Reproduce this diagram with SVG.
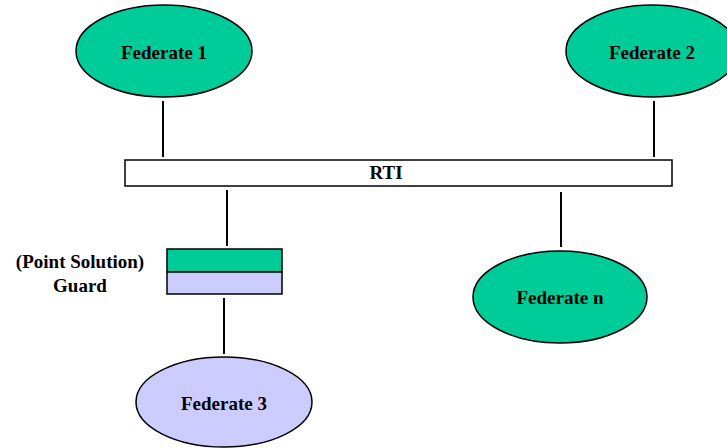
<svg xmlns="http://www.w3.org/2000/svg" width="727" height="448" viewBox="0 0 727 448">
  <style>
    .lbl { font-family: "Liberation Serif", "Times New Roman", serif; font-weight: bold; font-size: 19px; fill: #000; text-anchor: middle; }
    .green { fill: #00CC99; stroke: #000; stroke-width: 1.5; }
    .lilac { fill: #CCCCFF; stroke: #000; stroke-width: 1.5; }
    .link { stroke: #000; stroke-width: 2; fill: none; }
  </style>
  <rect width="727" height="448" fill="#fff"/>

  <g id="connectors">
    <line class="link" x1="163" y1="101" x2="163" y2="157"/>
    <line class="link" x1="654" y1="101" x2="654" y2="157"/>
    <line class="link" x1="227" y1="190" x2="227" y2="246"/>
    <line class="link" x1="561" y1="192" x2="561" y2="247"/>
    <line class="link" x1="224" y1="298" x2="224" y2="354"/>
  </g>

  <g id="rti">
    <rect x="125" y="160" width="547" height="26" fill="#fff" stroke="#000" stroke-width="1.5"/>
    <text class="lbl" x="386" y="179">RTI</text>
  </g>

  <g id="federate1">
    <ellipse class="green" cx="164" cy="51" rx="88" ry="46"/>
    <text class="lbl" x="164" y="59">Federate 1</text>
  </g>

  <g id="federate2">
    <ellipse class="green" cx="652" cy="51" rx="86" ry="46"/>
    <text class="lbl" x="652" y="59">Federate 2</text>
  </g>

  <g id="guard">
    <rect class="green" x="167" y="249" width="115" height="23"/>
    <rect class="lilac" x="167" y="272" width="115" height="22"/>
    <text class="lbl" x="80" y="268">(Point Solution)</text>
    <text class="lbl" x="80" y="292">Guard</text>
  </g>

  <g id="federaten">
    <ellipse class="green" cx="560" cy="297" rx="87" ry="46"/>
    <text class="lbl" x="560" y="304">Federate n</text>
  </g>

  <g id="federate3">
    <ellipse class="lilac" cx="224" cy="402" rx="88" ry="45"/>
    <text class="lbl" x="224" y="410">Federate 3</text>
  </g>
</svg>
